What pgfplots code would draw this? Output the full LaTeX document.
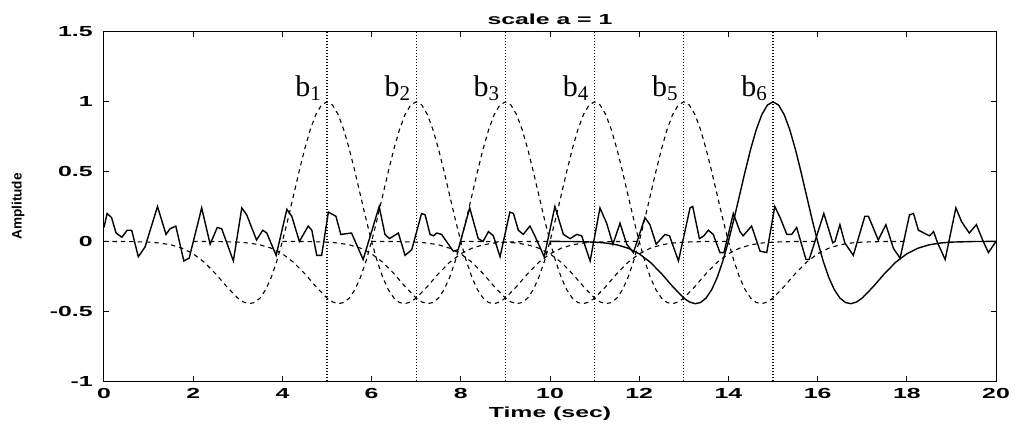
\documentclass[border=0pt]{standalone}
\usepackage{fontspec}
\setmainfont{Liberation Sans}
\newfontfamily\matfont[FakeStretch=1.7]{Liberation Sans}
\newfontfamily\bfont{Liberation Serif}
\usepackage{pgfplots}
\usepackage{pgfplotstable}
\pgfplotsset{compat=1.18}

% mexican hat, unit scale, sampled in t
\pgfplotstableread{
t psi
-5.0 0
-4.5 -0.0008
-4.0 -0.0050
-3.75 -0.0116
-3.5 -0.0246
-3.25 -0.0486
-3.0 -0.0889
-2.75 -0.1496
-2.5 -0.2307
-2.25 -0.3232
-2.0 -0.4060
-1.875 -0.4338
-1.75 -0.4461
-1.625 -0.4381
-1.5 -0.4058
-1.375 -0.3461
-1.25 -0.2575
-1.125 -0.1411
-1.0 0
-0.875 0.1598
-0.75 0.3302
-0.625 0.5013
-0.5 0.6619
-0.375 0.8010
-0.25 0.9087
-0.125 0.9767
0 1
0.125 0.9767
0.25 0.9087
0.375 0.8010
0.5 0.6619
0.625 0.5013
0.75 0.3302
0.875 0.1598
1.0 0
1.125 -0.1411
1.25 -0.2575
1.375 -0.3461
1.5 -0.4058
1.625 -0.4381
1.75 -0.4461
1.875 -0.4338
2.0 -0.4060
2.25 -0.3232
2.5 -0.2307
2.75 -0.1496
3.0 -0.0889
3.25 -0.0486
3.5 -0.0246
3.75 -0.0116
4.0 -0.0050
4.5 -0.0008
5.0 0
}\hattab

\pgfplotstableread{
x y
0.00 0.10
0.07 0.20
0.17 0.17
0.27 0.06
0.40 0.03
0.52 0.08
0.62 0.08
0.77 -0.11
0.92 -0.04
1.20 0.25
1.39 0.05
1.48 0.09
1.61 0.11
1.79 -0.14
1.91 -0.12
2.19 0.24
2.38 -0.02
2.54 0.10
2.64 0.09
2.90 -0.14
3.09 0.24
3.20 0.19
3.42 0.01
3.56 0.08
3.65 0.06
3.86 -0.10
4.10 0.23
4.21 0.18
4.38 0.00
4.58 0.11
4.66 0.08
4.77 -0.10
4.88 -0.10
5.03 0.21
5.20 0.18
5.31 0.05
5.55 0.06
5.81 -0.13
6.17 0.25
6.30 0.05
6.40 0.02
6.60 0.06
6.75 -0.10
6.90 -0.06
7.12 0.20
7.20 0.19
7.31 0.05
7.39 0.04
7.46 0.06
7.57 0.05
7.83 -0.07
7.94 -0.06
8.20 0.24
8.39 0.02
8.50 0.00
8.62 0.07
8.73 0.04
8.88 -0.11
9.10 0.21
9.18 0.20
9.29 0.08
9.40 0.05
9.55 0.11
9.66 0.04
9.87 -0.11
10.11 0.25
10.30 0.05
10.45 0.02
10.60 0.05
10.71 0.04
10.90 -0.14
11.12 0.24
11.27 0.13
11.41 -0.02
11.57 0.13
11.72 -0.02
11.87 -0.08
12.13 0.17
12.24 0.12
12.38 -0.02
12.58 0.05
12.68 0.04
12.88 -0.14
13.14 0.24
13.20 0.25
13.35 0.02
13.45 0.04
13.55 0.08
13.66 0.05
13.81 -0.08
13.90 -0.08
14.11 0.20
14.26 0.07
14.33 0.04
14.52 0.11
14.71 -0.07
14.86 -0.08
15.04 0.25
15.16 0.17
15.31 0.05
15.42 0.05
15.53 0.10
15.74 -0.13
15.81 -0.13
16.14 0.20
16.34 -0.01
16.39 0.00
16.50 0.12
16.61 -0.01
16.80 -0.10
17.06 0.18
17.14 0.18
17.36 0.01
17.53 0.12
17.70 -0.05
17.85 -0.12
18.06 0.19
18.15 0.20
18.26 0.08
18.51 0.04
18.60 0.07
18.69 -0.01
18.86 -0.13
19.10 0.24
19.23 0.14
19.40 0.06
19.56 0.12
19.70 0.01
19.83 -0.08
20.00 0.00
}\sigtab

\tikzset{
  wdash/.style={black, line width=0.55pt, dash pattern=on 2.2pt off 2pt},
  bline/.style={black, line width=0.6pt, dash pattern=on 0.6pt off 0.9pt},
}
\newcommand{\blab}[1]{{\bfont\fontsize{15}{15}\selectfont b\raisebox{-2pt}{\fontsize{10.5}{10.5}\selectfont #1}}}

\begin{document}
\begin{tikzpicture}
\begin{axis}[
  name=ax,
  scale only axis,
  width=446pt, height=174.5pt,
  xmin=0, xmax=20, ymin=-1, ymax=1.5,
  xtick={0,2,...,20},
  ytick={-1,-0.5,0,0.5,1,1.5},
  tick align=inside,
  tick pos=both,
  major tick length=2.5pt,
  axis line style={line width=0.5pt},
  tick style={black, line width=0.5pt},
  /pgf/number format/assume math mode=true,
  ticklabel style={font=\matfont\bfseries\fontsize{7.3}{8}\selectfont},
  xticklabel style={inner sep=0pt, anchor=north, yshift=-3.5pt},
  yticklabel style={inner sep=0pt, anchor=east, xshift=-5.5pt},
  title={scale a = 1},
  title style={font=\matfont\bfseries\fontsize{7.3}{8}\selectfont, inner sep=0pt,
    at={(axis description cs:0.5,1)}, anchor=base, yshift=-2.5pt},
  xlabel={Time (sec)},
  xlabel style={font=\matfont\bfseries\fontsize{7.3}{8}\selectfont, inner sep=0pt,
    at={(axis description cs:0.5,0)}, anchor=base, yshift=-18pt},
  clip=false,
]
  % dashed wavelets at b1..b5
  \addplot[wdash] table[x expr=\thisrow{t}+5, y=psi] {\hattab};
  \addplot[wdash] table[x expr=\thisrow{t}+7, y=psi] {\hattab};
  \addplot[wdash] table[x expr=\thisrow{t}+9, y=psi] {\hattab};
  \addplot[wdash] table[x expr=\thisrow{t}+11, y=psi] {\hattab};
  \addplot[wdash] table[x expr=\thisrow{t}+13, y=psi] {\hattab};
  % solid wavelet at b6
  \addplot[black, line width=0.7pt] table[x expr=\thisrow{t}+15, y=psi] {\hattab};
  % signal
  \addplot[black, line width=0.7pt] table[x=x, y=y] {\sigtab};
  % translation markers
  \addplot[bline] coordinates {(5,-1) (5,1.5)};
  \addplot[bline] coordinates {(7,-1) (7,1.5)};
  \addplot[bline] coordinates {(9,-1) (9,1.5)};
  \addplot[bline] coordinates {(11,-1) (11,1.5)};
  \addplot[bline] coordinates {(13,-1) (13,1.5)};
  \addplot[bline] coordinates {(15,-1) (15,1.5)};
  \node[anchor=base east, inner sep=0pt] at (axis cs:4.87,1.04) {\blab{1}};
  \node[anchor=base east, inner sep=0pt] at (axis cs:6.87,1.04) {\blab{2}};
  \node[anchor=base east, inner sep=0pt] at (axis cs:8.87,1.04) {\blab{3}};
  \node[anchor=base east, inner sep=0pt] at (axis cs:10.87,1.04) {\blab{4}};
  \node[anchor=base east, inner sep=0pt] at (axis cs:12.87,1.04) {\blab{5}};
  \node[anchor=base east, inner sep=0pt] at (axis cs:14.87,1.04) {\blab{6}};
  \node[rotate=90, anchor=center, inner sep=0pt, font=\bfseries\fontsize{6.8}{8}\selectfont]
    at (axis description cs:-0.0964,0.5) {Amplitude};
\end{axis}
\pgfresetboundingbox
\path[use as bounding box] ([xshift=-52pt,yshift=-21pt]ax.south west) rectangle ([xshift=10pt,yshift=16pt]ax.north east);
\end{tikzpicture}
\end{document}
